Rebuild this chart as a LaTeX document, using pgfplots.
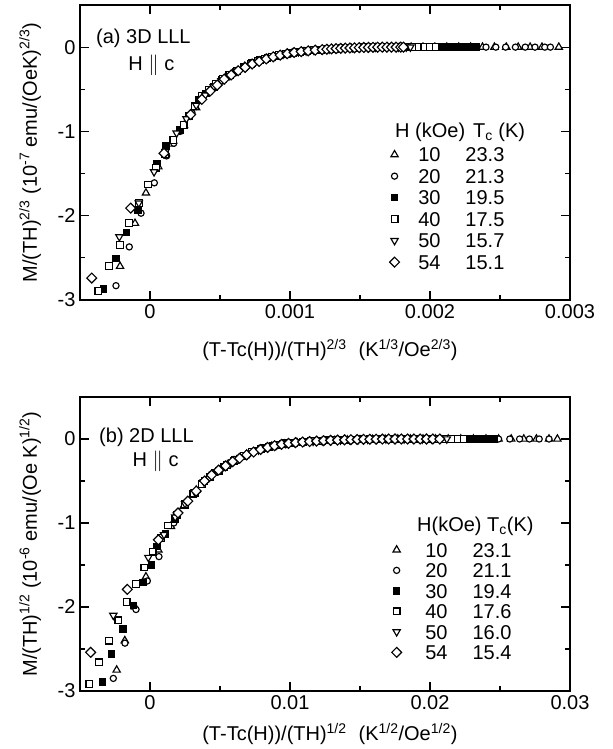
\documentclass[border=0pt]{standalone}
\usepackage{fontspec}
\setmainfont{Liberation Sans}
\usepackage{pgfplots}
\pgfplotsset{compat=1.18}
\usepackage{pgfplotstable}

% ---------------- panel (a): 3D LLL ----------------
\pgfplotstableread{
x y
-0.000214 -2.60
-0.000107 -2.09
-0.000029 -1.73
0.000060 -1.42
0.000150 -1.15
0.000243 -0.93
0.000330 -0.72
0.000418 -0.53
0.000505 -0.41
0.000590 -0.31
0.000675 -0.23
0.000760 -0.17
0.000845 -0.13
0.000930 -0.10
0.001015 -0.07
0.001100 -0.055
0.001185 -0.042
0.001270 -0.031
0.001355 -0.022
0.001440 -0.015
0.001525 -0.010
0.001610 -0.006
0.001695 -0.003
0.001780 -0.002
0.001865 0
0.001950 0
0.002035 0
0.002120 0
0.002205 0
0.002290 0
0.002375 0
0.002460 0
0.002545 0
0.002630 0
0.002715 0
0.002800 0
0.002920 0
}\aTri
\pgfplotstableread{
x y
-0.000243 -2.83
-0.000148 -2.37
-0.000064 -1.97
0.000031 -1.61
0.000119 -1.29
0.000170 -1.14
0.000215 -1.00
0.000300 -0.78
0.000375 -0.61
0.000450 -0.49
0.000525 -0.39
0.000600 -0.31
0.000675 -0.24
0.000750 -0.18
0.000825 -0.14
0.000900 -0.105
0.000975 -0.08
0.001050 -0.06
0.001125 -0.047
0.001200 -0.036
0.001275 -0.027
0.001350 -0.019
0.001425 -0.013
0.001500 -0.009
0.001575 -0.005
0.001650 -0.003
0.001725 -0.001
0.001800 0
0.001875 0
0.001950 0
0.002025 0
0.002100 0
0.002175 0
0.002250 0
0.002325 0
0.002400 0
0.002470 0
0.002540 0
0.002610 0
0.002680 0
0.002750 0
0.002820 0
0.002860 0
}\aCirc
\pgfplotstableread{
x y
-0.000333 -2.87
-0.000245 -2.51
-0.000167 -2.20
-0.000085 -1.93
0.000052 -1.38
0.000114 -1.17
0.000214 -0.98
0.000280 -0.82
0.000345 -0.63
0.000400 -0.55
0.000455 -0.47
0.000510 -0.39
0.000565 -0.33
0.000620 -0.28
0.000675 -0.23
0.000730 -0.19
0.000785 -0.155
0.000840 -0.13
0.000895 -0.105
0.000950 -0.085
0.001005 -0.068
0.001060 -0.055
0.001115 -0.045
0.001170 -0.036
0.001225 -0.028
0.001280 -0.021
0.001335 -0.016
0.001390 -0.012
0.001445 -0.008
0.001500 -0.005
0.001555 -0.003
0.001610 -0.001
0.001665 0
0.001720 0
0.001775 0
0.001830 0
0.001885 0
0.001940 0
0.001995 0
0.002050 0
0.002100 0
0.002150 0
0.002200 0
0.002250 0
0.002290 0
0.002330 0
}\aFill
\pgfplotstableread{
x y
-0.000369 -2.89
-0.000293 -2.60
-0.000214 -2.35
-0.000148 -2.09
-0.000079 -1.85
-0.000012 -1.63
0.000045 -1.43
0.000105 -1.27
0.000167 -1.10
0.000240 -0.92
0.000321 -0.70
0.000369 -0.58
0.000420 -0.51
0.000470 -0.44
0.000520 -0.38
0.000570 -0.33
0.000620 -0.28
0.000670 -0.24
0.000720 -0.20
0.000770 -0.165
0.000820 -0.14
0.000870 -0.115
0.000920 -0.095
0.000970 -0.078
0.001020 -0.065
0.001070 -0.053
0.001120 -0.044
0.001170 -0.036
0.001220 -0.029
0.001270 -0.022
0.001320 -0.017
0.001370 -0.013
0.001420 -0.009
0.001470 -0.006
0.001520 -0.004
0.001570 -0.002
0.001620 0
0.001670 0
0.001720 0
0.001770 0
0.001820 0
0.001870 0
0.001920 0
0.001960 0
0.002000 0
0.002040 0
}\aSq
\pgfplotstableread{
x y
-0.000219 -2.25
-0.000080 -1.85
0.000029 -1.48
0.000110 -1.24
0.000190 -1.02
0.000260 -0.85
0.000330 -0.69
0.000395 -0.57
0.000455 -0.47
0.000510 -0.40
0.000565 -0.34
0.000620 -0.285
0.000675 -0.24
0.000730 -0.20
0.000785 -0.16
0.000840 -0.13
0.000895 -0.105
0.000950 -0.085
0.001005 -0.069
0.001060 -0.056
0.001115 -0.045
0.001170 -0.036
0.001225 -0.029
0.001280 -0.022
0.001335 -0.017
0.001390 -0.012
0.001445 -0.008
0.001500 -0.005
0.001555 -0.003
0.001610 -0.001
0.001665 0
0.001720 0
0.001775 0
0.001830 0
0.001860 0
}\aTrd
\pgfplotstableread{
x y
-0.000416 -2.74
-0.000138 -1.91
0.000100 -1.26
0.000290 -0.80
0.000370 -0.62
0.000430 -0.52
0.000480 -0.45
0.000530 -0.38
0.000580 -0.33
0.000630 -0.28
0.000680 -0.24
0.000730 -0.20
0.000780 -0.17
0.000830 -0.14
0.000880 -0.115
0.000930 -0.095
0.000980 -0.078
0.001030 -0.064
0.001080 -0.053
0.001130 -0.044
0.001180 -0.036
0.001230 -0.029
0.001263 -0.025
0.001296 -0.021
0.001329 -0.018
0.001362 -0.015
0.001395 -0.012
0.001428 -0.010
0.001461 -0.008
0.001494 -0.006
0.001527 -0.004
0.001560 -0.003
0.001593 -0.002
0.001626 -0.001
0.001659 0
0.001692 0
0.001725 0
0.001758 0
0.001791 0
0.001810 0
}\aDia

% ---------------- panel (b): 2D LLL ----------------
\pgfplotstableread{
x y
-0.00238 -2.75
-0.00180 -2.40
-0.00107 -2.00
-0.00029 -1.64
0.00060 -1.32
0.00150 -1.04
0.00240 -0.80
0.00330 -0.61
0.00420 -0.46
0.00510 -0.35
0.00600 -0.26
0.00690 -0.18
0.00780 -0.125
0.00870 -0.085
0.00960 -0.060
0.01050 -0.043
0.01140 -0.032
0.01230 -0.024
0.01320 -0.017
0.01410 -0.012
0.01500 -0.008
0.01590 -0.005
0.01680 -0.002
0.01770 0
0.01860 0
0.01950 0
0.02040 0
0.02130 0
0.02220 0
0.02310 0
0.02400 0
0.02490 0
0.02580 0
0.02670 0
0.02760 0
0.02850 0
0.02910 0
}\bTri
\pgfplotstableread{
x y
-0.00262 -2.85
-0.00179 -2.43
-0.00100 -2.03
-0.00019 -1.69
0.00064 -1.40
0.00170 -1.00
0.00250 -0.79
0.00330 -0.62
0.00410 -0.48
0.00490 -0.37
0.00570 -0.28
0.00650 -0.21
0.00730 -0.15
0.00810 -0.105
0.00890 -0.075
0.00970 -0.054
0.01050 -0.040
0.01130 -0.030
0.01210 -0.022
0.01290 -0.016
0.01370 -0.011
0.01450 -0.007
0.01530 -0.004
0.01610 -0.002
0.01690 0
0.01770 0
0.01850 0
0.01930 0
0.02010 0
0.02090 0
0.02170 0
0.02250 0
0.02330 0
0.02410 0
0.02490 0
0.02570 0
0.02640 0
0.02710 0
0.02780 0
0.02850 0
}\bCirc
\pgfplotstableread{
x y
-0.00340 -2.89
-0.00274 -2.56
-0.00195 -2.26
-0.00119 -1.98
-0.00052 -1.71
0.00012 -1.50
0.00052 -1.28
0.00110 -1.13
0.00180 -0.95
0.00250 -0.79
0.00320 -0.64
0.00390 -0.50
0.00460 -0.40
0.00530 -0.33
0.00600 -0.26
0.00670 -0.20
0.00740 -0.15
0.00810 -0.11
0.00880 -0.078
0.00950 -0.058
0.01020 -0.045
0.01090 -0.036
0.01160 -0.029
0.01230 -0.022
0.01300 -0.017
0.01370 -0.012
0.01440 -0.008
0.01510 -0.005
0.01580 -0.003
0.01650 -0.001
0.01720 0
0.01780 0
0.01840 0
0.01900 0
0.01960 0
0.02020 0
0.02080 0
0.02140 0
0.02200 0
0.02260 0
0.02310 0
0.02360 0
0.02410 0
0.02460 0
}\bFill
\pgfplotstableread{
x y
-0.00433 -2.92
-0.00364 -2.66
-0.00293 -2.40
-0.00226 -2.16
-0.00167 -1.94
-0.00100 -1.73
-0.00040 -1.53
0.00019 -1.34
0.00080 -1.18
0.00130 -1.03
0.00190 -0.90
0.00250 -0.77
0.00310 -0.65
0.00370 -0.54
0.00430 -0.45
0.00490 -0.38
0.00550 -0.31
0.00610 -0.25
0.00670 -0.20
0.00730 -0.155
0.00790 -0.12
0.00850 -0.09
0.00910 -0.068
0.00970 -0.052
0.01030 -0.042
0.01090 -0.034
0.01150 -0.027
0.01210 -0.021
0.01270 -0.016
0.01330 -0.012
0.01390 -0.009
0.01450 -0.006
0.01510 -0.004
0.01570 -0.002
0.01630 0
0.01690 0
0.01750 0
0.01810 0
0.01870 0
0.01930 0
0.01990 0
0.02050 0
0.02100 0
0.02150 0
0.02200 0
0.02240 0
}\bSq
\pgfplotstableread{
x y
-0.00262 -2.10
-0.00012 -1.41
0.00100 -1.14
0.00180 -0.93
0.00250 -0.77
0.00320 -0.63
0.00385 -0.51
0.00450 -0.42
0.00515 -0.35
0.00580 -0.28
0.00645 -0.22
0.00710 -0.17
0.00775 -0.13
0.00840 -0.095
0.00905 -0.072
0.00970 -0.055
0.01035 -0.043
0.01100 -0.034
0.01165 -0.027
0.01230 -0.021
0.01295 -0.016
0.01360 -0.012
0.01425 -0.008
0.01490 -0.005
0.01555 -0.003
0.01620 -0.001
0.01685 0
0.01750 0
0.01815 0
0.01880 0
0.01945 0
0.02010 0
0.02070 0
0.02120 0
}\bTrd
\pgfplotstableread{
x y
-0.00424 -2.54
-0.00162 -1.79
0.00060 -1.20
0.00200 -0.88
0.00270 -0.74
0.00330 -0.62
0.00390 -0.50
0.00440 -0.43
0.00490 -0.37
0.00540 -0.32
0.00590 -0.27
0.00640 -0.23
0.00690 -0.19
0.00740 -0.155
0.00790 -0.125
0.00840 -0.10
0.00890 -0.08
0.00940 -0.064
0.00990 -0.052
0.01040 -0.043
0.01090 -0.036
0.01140 -0.030
0.01190 -0.025
0.01240 -0.020
0.01290 -0.016
0.01340 -0.013
0.01390 -0.010
0.01435 -0.008
0.01480 -0.006
0.01525 -0.004
0.01570 -0.003
0.01615 -0.002
0.01660 -0.001
0.01705 0
0.01750 0
0.01795 0
0.01840 0
0.01885 0
0.01930 0
0.01975 0
0.02020 0
0.02070 0
}\bDia

\newcommand{\fs}{\fontsize{20bp}{23bp}\selectfont}

\pgfplotsset{
  panel/.style={
    scale only axis, width=490bp,
    ymin=-3, ymax=0.5,
    ytick={-3,-2,-1,0}, yticklabels={-3,-2,-1,0},
    minor x tick num=1, minor y tick num=1,
    major tick length=9bp, minor tick length=5bp,
    axis line style={line width=1.3bp},
    every tick/.style={black, line width=1.2bp},
    scaled x ticks=false, scaled y ticks=false,
    /pgf/number format/assume math mode=true,
    tick label style={font=\fs},
    xticklabel style={yshift=-1bp},
    yticklabel style={xshift=-1bp},
    label style={font=\fs},
    ylabel style={at={(axis description cs:-0.102,0.5)}, anchor=center},
    clip=false,
    legend cell align=left,
  },
  mk/.style={only marks, mark options={line width=1.15bp, draw=black, fill=white}},
  mTri/.style={mk, mark=triangle*, mark size=4.2bp},
  mCirc/.style={mk, mark=*, mark size=3.1bp},
  mFill/.style={only marks, mark=square*, mark size=3.3bp, mark options={line width=1bp, draw=black, fill=black}},
  mSq/.style={mk, mark=square*, mark size=3.4bp},
  mTrd/.style={mk, mark=triangle*, mark size=4.2bp, mark options={rotate=180, line width=1.15bp, draw=black, fill=white}},
  mDia/.style={mk, mark=square*, mark size=3.5bp, mark options={rotate=45, line width=1.15bp, draw=black, fill=white}},
}

\begin{document}
\begin{tikzpicture}[font=\fs]
% ---------- (a) ----------
\begin{axis}[panel, height=295bp,
  at={(80bp,449bp)}, anchor=south west,
  xmin=-0.0005, xmax=0.003,
  xtick={0,0.001,0.002,0.003}, xticklabels={0,0.001,0.002,0.003},
  xlabel={(T-Tc(H))/(TH)\textsuperscript{2/3}\hspace{0.6em}(K\textsuperscript{1/3}/Oe\textsuperscript{2/3})},
  xlabel style={at={(axis description cs:0.51,0)}, anchor=center, yshift=-50bp},
  ylabel={M/(TH)\textsuperscript{2/3} (10\textsuperscript{-7} emu/(OeK)\textsuperscript{2/3})},
  legend style={draw=none, fill=none, inner sep=0pt, at={(axis cs:0.00171,-1.164)}, anchor=north west,
    font=\fs, row sep=3.1bp, nodes={inner ysep=2bp, inner xsep=2bp, text height=14.4bp, text depth=0bp}},
]
\addplot[mTri] table {\aTri};
\addlegendentry{\makebox[39bp][r]{10}\hspace{25bp}23.3}
\addplot[mCirc] table {\aCirc};
\addlegendentry{\makebox[39bp][r]{20}\hspace{25bp}21.3}
\addplot[mFill] table {\aFill};
\addlegendentry{\makebox[39bp][r]{30}\hspace{25bp}19.5}
\addplot[mSq] table {\aSq};
\addlegendentry{\makebox[39bp][r]{40}\hspace{25bp}17.5}
\addplot[mTrd] table {\aTrd};
\addlegendentry{\makebox[39bp][r]{50}\hspace{25bp}15.7}
\addplot[mDia] table {\aDia};
\addlegendentry{\makebox[39bp][r]{54}\hspace{25bp}15.1}
\node[anchor=west, inner sep=0pt] at (axis cs:-0.000386,0.10) {(a) 3D LLL};
\node[inner sep=0pt] at (axis cs:0.00001,-0.21) {H $\parallel$ c};
\node[anchor=west, inner sep=0pt] at (axis cs:0.00175,-1.01) {H (kOe)\hspace{8bp}T\textsubscript{c} (K)};
\end{axis}
% ---------- (b) ----------
\begin{axis}[panel, height=294bp,
  at={(80bp,58bp)}, anchor=south west,
  xmin=-0.005, xmax=0.03,
  xtick={0,0.01,0.02,0.03}, xticklabels={0,0.01,0.02,0.03},
  xlabel={(T-Tc(H))/(TH)\textsuperscript{1/2}\hspace{0.6em}(K\textsuperscript{1/2}/Oe\textsuperscript{1/2})},
  xlabel style={at={(axis description cs:0.51,0)}, anchor=center, yshift=-43bp},
  ylabel={M/(TH)\textsuperscript{1/2} (10\textsuperscript{-6} emu/(Oe K)\textsuperscript{1/2})},
  legend style={draw=none, fill=none, inner sep=0pt, at={(axis cs:0.01725,-1.208)}, anchor=north west,
    font=\fs, row sep=2.1bp, nodes={inner ysep=2bp, inner xsep=2bp, text height=14.4bp, text depth=0bp}},
]
\addplot[mTri] table {\bTri};
\addlegendentry{\makebox[44bp][r]{10}\hspace{25bp}23.1}
\addplot[mCirc] table {\bCirc};
\addlegendentry{\makebox[44bp][r]{20}\hspace{25bp}21.1}
\addplot[mFill] table {\bFill};
\addlegendentry{\makebox[44bp][r]{30}\hspace{25bp}19.4}
\addplot[mSq] table {\bSq};
\addlegendentry{\makebox[44bp][r]{40}\hspace{25bp}17.6}
\addplot[mTrd] table {\bTrd};
\addlegendentry{\makebox[44bp][r]{50}\hspace{25bp}16.0}
\addplot[mDia] table {\bDia};
\addlegendentry{\makebox[44bp][r]{54}\hspace{25bp}15.4}
\node[anchor=west, inner sep=0pt] at (axis cs:-0.00364,0.02) {(b) 2D LLL};
\node[inner sep=0pt] at (axis cs:0.0004,-0.26) {H $\parallel$ c};
\node[anchor=west, inner sep=0pt] at (axis cs:0.01907,-1.044) {H(kOe) T\textsubscript{c}(K)};
\end{axis}
\pgfresetboundingbox
\path[use as bounding box] (0,0) rectangle (613bp,749bp);
\end{tikzpicture}
\end{document}
